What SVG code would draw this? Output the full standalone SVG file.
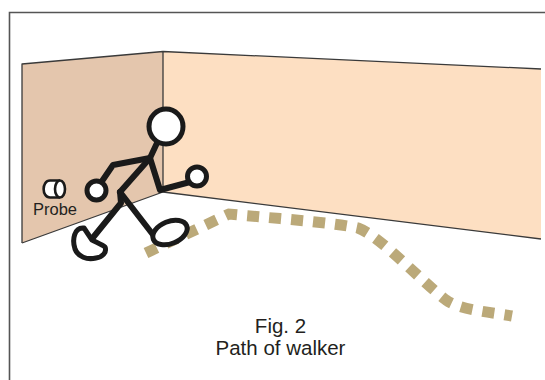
<svg xmlns="http://www.w3.org/2000/svg" width="545" height="380" viewBox="0 0 545 380">
  <style>
    .edge { fill: none; stroke: #3a3a3a; stroke-width: 1.3; stroke-linejoin: round; }
    .limb { fill: none; stroke: #1a1a1a; stroke-width: 6; stroke-linecap: round; stroke-linejoin: round; }
    .part { fill: #ffffff; stroke: #1a1a1a; stroke-width: 5; stroke-linejoin: round; }
    .label { font-family: "Liberation Sans", Arial, sans-serif; fill: #231f20; }
  </style>

  <!-- frame -->
  <path d="M9.5,380 V12.5 H545" fill="none" stroke="#555555" stroke-width="1.6"/>

  <!-- room: two walls meeting at a corner -->
  <g id="walls">
    <polygon points="22,64 163,51.5 163,192 22,243" fill="#e4c6ad"/>
    <polygon points="163,51.5 541,69 541,239 163,192" fill="#fddfc2"/>
    <path class="edge" d="M22,243 V64 L163,51.5 L541,69"/>
    <path class="edge" d="M163,51.5 V192"/>
    <path class="edge" d="M22,243 L163,192 L541,239"/>
  </g>

  <!-- walking path on the floor -->
  <g id="path">
    <path d="M146,253 L229,214 C270,218 330,222 358,228 C380,236 420,280 446,300 C460,310 490,312 512,316"
          fill="none" stroke="#bba979" stroke-width="11" stroke-dasharray="12 10"/>
  </g>

  <!-- probe on the wall -->
  <g id="probe">
    <path d="M60,180.5 H50 C41.5,180.5 41.5,197.5 50,197.5 H60" fill="#ffffff" stroke="#1a1a1a" stroke-width="2.6"/>
    <ellipse cx="60" cy="189" rx="5" ry="8.5" fill="#ffffff" stroke="#1a1a1a" stroke-width="2.6"/>
    <text class="label" x="55" y="215" font-size="16.5" text-anchor="middle">Probe</text>
  </g>

  <!-- stick figure -->
  <g id="walker">
    <!-- limbs -->
    <path class="limb" d="M157,143 L150,158 L120,192"/>
    <path class="limb" d="M150,158 L113,165 L98,187"/>
    <path class="limb" d="M150,158 L160,190 L190,182"/>
    <path class="limb" d="M120,192 L121,203 L91,240"/>
    <path class="limb" d="M120,192 L154,236"/>
    <!-- head, hands, feet -->
    <ellipse class="part" cx="166" cy="126.5" rx="17" ry="17.5"/>
    <circle class="part" cx="96.5" cy="190.5" r="9.5"/>
    <circle class="part" cx="197" cy="176.5" r="9.5"/>
    <path class="part" d="M92,240 L84,228 C74,227 72,240 75,249 C78,257 87,260 96,258 C103,257 107,252 105,247 C103,245 98,243 92,240 Z"/>
    <ellipse class="part" cx="170" cy="232.5" rx="18" ry="11" transform="rotate(-22 170 232.5)"/>
  </g>

  <!-- caption -->
  <g id="caption">
    <text class="label" x="280.5" y="333" font-size="20.5" text-anchor="middle">Fig. 2</text>
    <text class="label" x="280.5" y="355" font-size="20.5" text-anchor="middle">Path of walker</text>
  </g>
</svg>
